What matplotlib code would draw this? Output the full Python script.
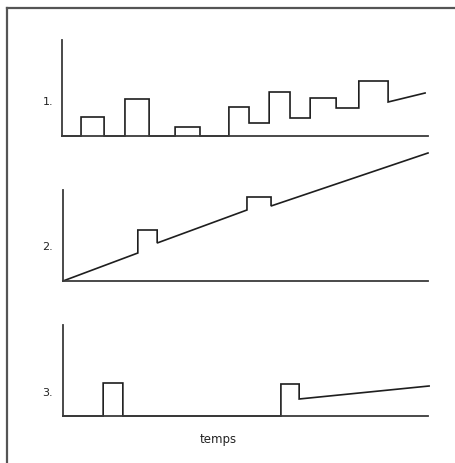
import matplotlib
matplotlib.use("Agg")
import matplotlib.pyplot as plt
from matplotlib.lines import Line2D

W, H = 456, 463

# panel 1 : step signal (time, level) - level held until next time
t1 = [0, 5.2, 11.5, 17.2, 23.8, 30.9, 37.7, 45.6, 51.1, 56.6, 62.3, 67.8, 74.9, 81.1, 89.1]
v1 = [0, 19, 0, 37, 0, 9, 0, 29, 13, 44, 18, 38, 28, 55, 34]
t1_end, v1_end = 99.2, 43

# panel 2 : ramp with two bumps (x, y) polyline
t2 = [0, 20.5, 20.5, 25.8, 25.8, 50.4, 50.4, 57.0, 57.0, 100]
v2 = [0, 28, 51, 51, 38, 71, 84, 84, 75, 128]

# panel 3
t3 = [0, 11.0, 11.0, 16.4, 16.4, 59.7, 59.7, 64.7, 64.7, 100.3]
v3 = [0, 0, 33, 33, 0, 0, 32, 32, 17, 30]

labels = ["1.", "2.", "3."]

fig = plt.figure(figsize=(W / 100, H / 100), dpi=100)
fig.patch.set_facecolor("white")

LINE = "#1e1e1e"
AX = "#3a3a3a"


def make_axes(left, right, top, bottom, ytop):
    ax = fig.add_axes([left / W, 1 - bottom / H, (right - left) / W, (bottom - top) / H])
    ax.set_xlim(0, 100)
    ax.set_ylim(0, ytop)
    for s in ["top", "right"]:
        ax.spines[s].set_visible(False)
    for s in ["left", "bottom"]:
        ax.spines[s].set_color(AX)
        ax.spines[s].set_linewidth(1.3)
    ax.set_xticks([])
    ax.set_yticks([])
    ax.patch.set_alpha(0)
    return ax


# panel 1
ax1 = make_axes(62, 428, 40, 136, 96)
xs, ys = [], []
for i in range(len(t1)):
    if i > 0:
        xs.append(t1[i])
        ys.append(v1[i - 1])
    xs.append(t1[i])
    ys.append(v1[i])
xs.append(t1_end)
ys.append(v1_end)
ax1.plot(xs, ys, color=LINE, lw=1.2, clip_on=False, solid_joinstyle="miter")

# panel 2
ax2 = make_axes(63, 428, 190, 281, 91)
ax2.plot(t2, v2, color=LINE, lw=1.2, clip_on=False, solid_joinstyle="miter")

# panel 3
ax3 = make_axes(63, 428, 325, 416, 91)
ax3.plot(t3, v3, color=LINE, lw=1.2, clip_on=False, solid_joinstyle="miter")

for lab, y in zip(labels, [102, 247, 393]):
    fig.text(48 / W, 1 - y / H, lab, ha="center", va="center", fontsize=8, color="#222")

fig.text(218 / W, 1 - 440 / H, "temps", ha="center", va="center", fontsize=8.5, color="#222")

# scanned frame (top and left edges only)
fig.add_artist(Line2D([7 / W, 1], [1 - 8 / H, 1 - 8 / H], transform=fig.transFigure, color="#555", lw=1.6))
fig.add_artist(Line2D([7 / W, 7 / W], [1 - 8 / H, 0], transform=fig.transFigure, color="#555", lw=1.6))

fig.savefig("out.png", dpi=100, facecolor="white")
